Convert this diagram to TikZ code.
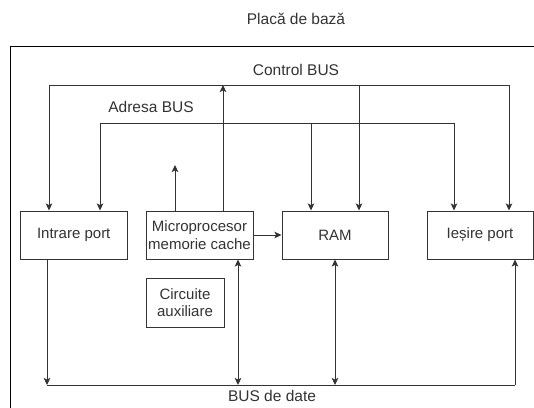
\documentclass[tikz,border=0pt]{standalone}
\usepackage{fontspec}
\setmainfont{Liberation Sans}
\usetikzlibrary{arrows.meta}
\definecolor{ink}{HTML}{333333}
\tikzset{
  x=1pt, y=1pt,
  block/.style={draw=ink, line width=1pt, fill=white, text=ink, align=center,
    inner sep=0pt, font=\fontsize{15}{17.5}\selectfont},
  label/.style={text=ink, inner sep=0pt, font=\fontsize{15.5}{18}\selectfont},
  wire/.style={draw=ink, line width=1pt},
  arr/.style={wire, -{Stealth[length=7pt,width=6.5pt,inset=1.5pt]}},
  both/.style={wire, {Stealth[length=7pt,width=6.5pt,inset=1.5pt]}-{Stealth[length=7pt,width=6.5pt,inset=1.5pt]}},
}
\begin{document}
\begin{tikzpicture}
\useasboundingbox (0,0) rectangle (534,-407);
\clip (0,0) rectangle (534,-407);
\fill[white] (0,0) rectangle (534,-407);

% motherboard outline (runs past the right and bottom edges)
\draw[black, line width=1pt] (10.5,-46) rectangle (620,-460);
\node[label] (title) at (296,-19) {Placă de bază};

% components
\node[block, minimum width=106.5pt, minimum height=48pt] (in)  at (73.75,-235) {Intrare port};
\node[block, minimum width=107pt,   minimum height=48pt] (cpu) at (199.5,-235) {Microprocesor\\memorie cache};
\node[block, minimum width=106pt,   minimum height=48pt] (ram) at (335,-235)   {RAM};
\node[block, minimum width=106pt,   minimum height=48pt] (out) at (480,-235)   {Ieșire port};
\node[block, minimum width=78pt,    minimum height=49pt] (aux) at (185,-302.5) {Circuite\\auxiliare};

% bus labels
\node[label] (ctl)  at (296,-70)  {Control BUS};
\node[label] (adr)  at (151,-107) {Adresa BUS};
\node[label] (data) at (272,-396) {BUS de date};

% control bus
\coordinate (cL)   at (49,-85);
\coordinate (cR)   at (509,-85);
\coordinate (cRam) at (359,-85);
\coordinate (cCpu) at (223,-85);
\draw[wire] (cL) -- (cR);
\draw[arr] (cL) -- (cL |- in.north);
\draw[arr] (cR) -- (cR |- out.north);
\draw[arr] (cRam) -- (cRam |- ram.north);
\draw[arr] (cCpu |- cpu.north) -- (cCpu);

% address bus
\coordinate (aL)   at (100,-123);
\coordinate (aR)   at (454,-123);
\coordinate (aRam) at (311,-123);
\coordinate (aCpu) at (175,-165);
\draw[wire] (aL) -- (aR);
\draw[arr] (aL) -- (aL |- in.north);
\draw[arr] (aR) -- (aR |- out.north);
\draw[arr] (aRam) -- (aRam |- ram.north);
\draw[arr] (aCpu |- cpu.north) -- (aCpu);

% processor to memory
\draw[arr] (cpu.east) -- (ram.west);

% data bus
\coordinate (dL)   at (47,-385);
\coordinate (dR)   at (515,-385);
\coordinate (dCpu) at (238,-385);
\coordinate (dRam) at (335,-385);
\draw[wire] (dL) -- (dR);
\draw[arr] (dL |- in.south) -- (dL);
\draw[arr] (dR) -- (dR |- out.south);
\draw[both] (dCpu |- cpu.south) -- (dCpu);
\draw[both] (dRam |- ram.south) -- (dRam);
\end{tikzpicture}
\end{document}
